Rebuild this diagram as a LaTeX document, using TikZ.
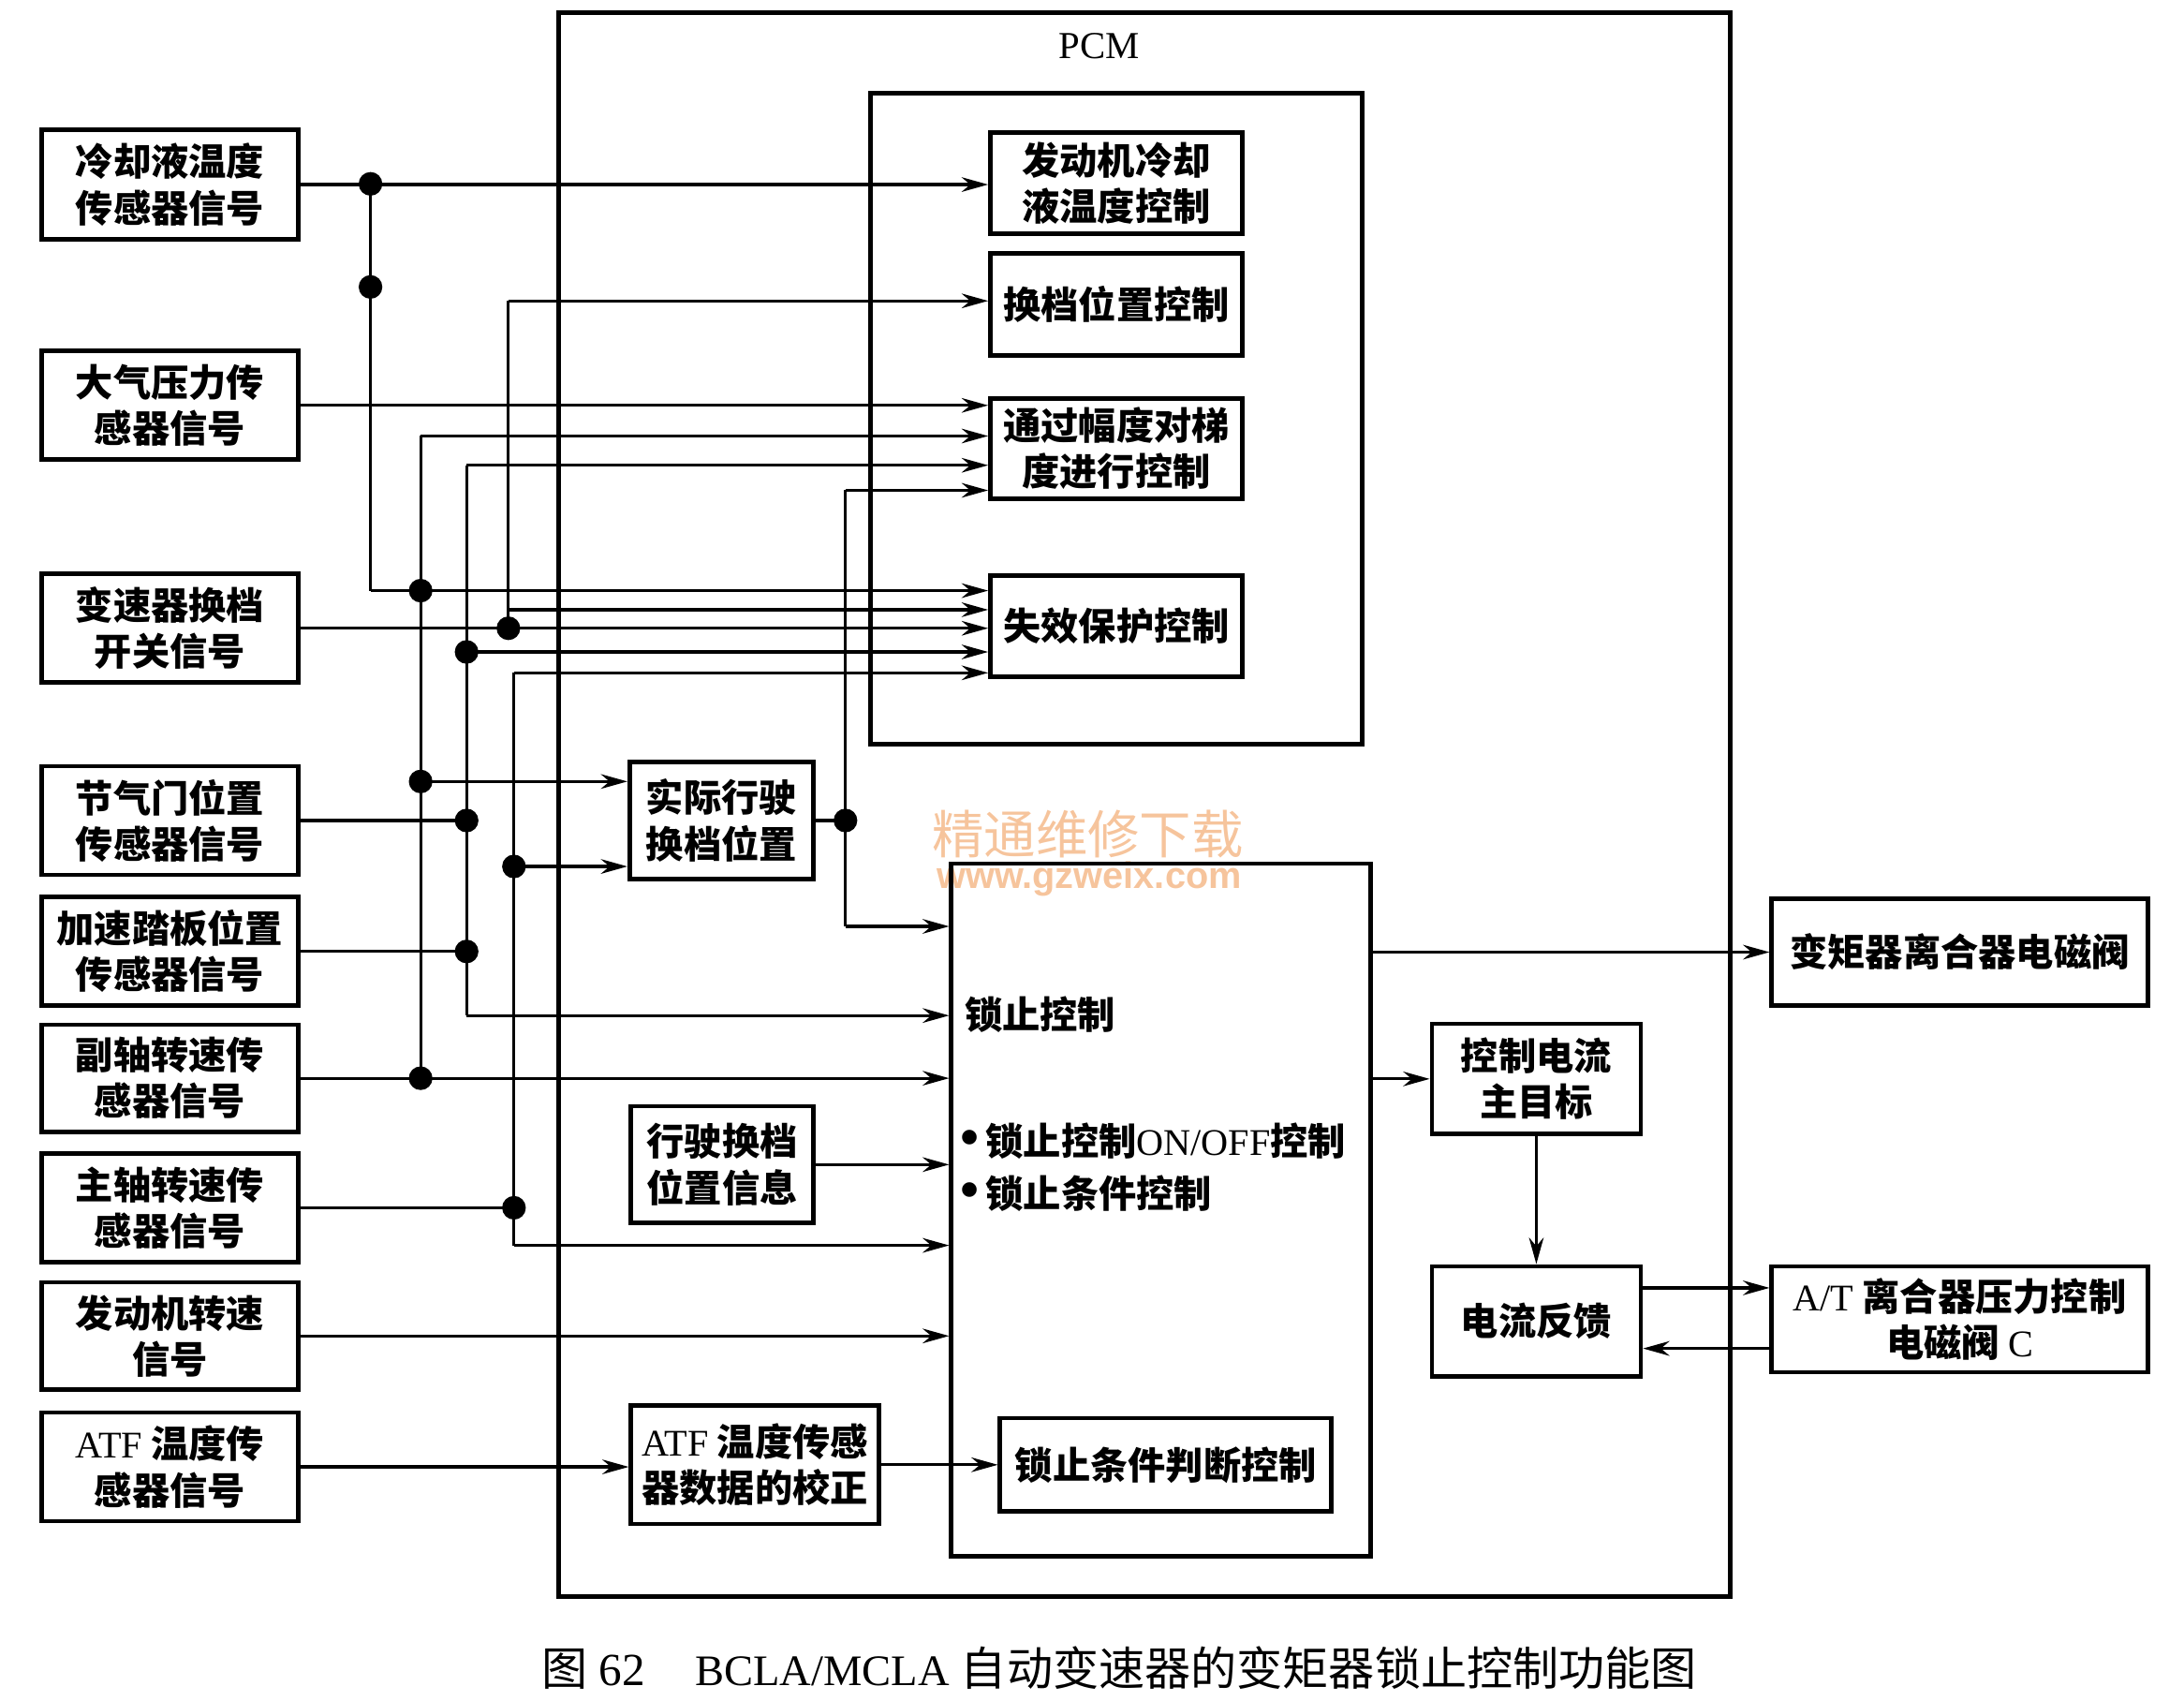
\documentclass[tikz,border=0pt]{standalone}
\usepackage{fontspec}
\setmainfont{Liberation Serif}
\newfontfamily\cjk{Noto Sans CJK SC}
\newfontfamily\wmsans{Liberation Sans}
\usetikzlibrary{arrows.meta}
\definecolor{wmorange}{RGB}{246,196,156}
\newcommand\ltn[1]{{\rmfamily\mdseries #1}}
\newcommand\zh[1]{{\cjk #1}}
\newcommand\bul{{\rmfamily\fontsize{11}{9.4}\selectfont •}}
\tikzset{
  box/.style={draw, line width=0.9pt, inner sep=0pt, align=center,
    font=\cjk\bfseries\fontsize{7.7}{9.4}\selectfont},
  frame/.style={draw, line width=0.9pt, inner sep=0pt},
  plain/.style={inner sep=0pt, anchor=west,
    font=\cjk\bfseries\fontsize{7.7}{9.4}\selectfont},
  wire/.style={line width=0.6pt},
  arr/.style={wire, -{Stealth[length=1.9mm,width=1.05mm]}},
}

\begin{document}
\begin{tikzpicture}[x=0.1mm,y=-0.1mm]
  \useasboundingbox (0,0) rectangle (1568,1221);

  % 水印
  \node[text=wmorange, inner sep=0pt, font=\cjk\fontsize{10.6}{11}\selectfont] (wmcn) at (781,599) {精通维修下载};
  \node[text=wmorange, inner sep=0pt, font=\wmsans\bfseries\fontsize{7.6}{8}\selectfont] (wmurl) at (782,631) {www.gzweix.com};

  % PCM 外框与上部控制框
  \node[frame, minimum width=84.1mm, minimum height=113.7mm] (pcm) at (821.5,577.5) {};
  \node[font=\fontsize{7.8}{8}\selectfont] (pcmlabel) at (789,33) {PCM};
  \node[frame, minimum width=35.3mm, minimum height=46.7mm] (upper) at (801.5,300.5) {};

  % 左侧传感器信号
  \node[box, minimum width=18.4mm, minimum height=7.9mm] (coolant) at (122,132.5) {冷却液温度\\传感器信号};
  \node[box, minimum width=18.4mm, minimum height=7.8mm] (baro) at (122,291) {大气压力传\\感器信号};
  \node[box, minimum width=18.4mm, minimum height=7.8mm] (shiftsw) at (122,451) {变速器换档\\开关信号};
  \node[box, minimum width=18.4mm, minimum height=7.8mm] (throttle) at (122,589) {节气门位置\\传感器信号};
  \node[box, minimum width=18.4mm, minimum height=7.8mm] (accel) at (122,683) {加速踏板位置\\传感器信号};
  \node[box, minimum width=18.4mm, minimum height=7.7mm] (ctrshaft) at (122,774) {副轴转速传\\感器信号};
  \node[box, minimum width=18.4mm, minimum height=7.8mm] (mainshaft) at (122,867) {主轴转速传\\感器信号};
  \node[box, minimum width=18.4mm, minimum height=7.7mm] (engspeed) at (122,959) {发动机转速\\信号};
  \node[box, minimum width=18.4mm, minimum height=7.8mm] (atftemp) at (122,1053) {\ltn{ATF} 温度传\\感器信号};

  % 上部控制功能
  \node[box, minimum width=18.1mm, minimum height=7.3mm] (coolctl) at (801.5,131.5) {发动机冷却\\液温度控制};
  \node[box, minimum width=18.1mm, minimum height=7.3mm] (shiftctl) at (801.5,218.5) {换档位置控制};
  \node[box, minimum width=18.1mm, minimum height=7.2mm] (gradctl) at (801.5,322) {通过幅度对梯\\度进行控制};
  \node[box, minimum width=18.1mm, minimum height=7.3mm] (failsafe) at (801.5,449.5) {失效保护控制};

  % 中间处理框
  \node[box, minimum width=13.2mm, minimum height=8.4mm] (actpos) at (518,589) {实际行驶\\换档位置};
  \node[box, minimum width=13.1mm, minimum height=8.4mm] (posinfo) at (518.5,836) {行驶换档\\位置信息};
  \node[box, minimum width=17.8mm, minimum height=8.5mm] (atfcal) at (542,1051.5) {\ltn{ATF} 温度传感\\器数据的校正};

  % 锁止控制
  \node[frame, minimum width=30.1mm, minimum height=49.7mm] (lockup) at (833.5,868.5) {};
  \node[plain] (lktitle) at (692,728) {锁止控制};
  \node[plain] (lkonoff) at (689,819) {\bul\,锁止控制\ltn{ON/OFF}控制};
  \node[plain] (lkcond) at (689,857) {\bul\,锁止条件控制};
  \node[box, minimum width=23.8mm, minimum height=6.7mm] (lockjudge) at (837,1051.5) {锁止条件判断控制};

  % 右侧电流控制与电磁阀
  \node[box, minimum width=15mm, minimum height=7.9mm] (curtarget) at (1103,774.5) {控制电流\\主目标};
  \node[box, minimum width=15mm, minimum height=7.9mm] (curfb) at (1103,948.5) {电流反馈};
  \node[box, minimum width=27mm, minimum height=7.7mm] (tccsol) at (1407,683.5) {变矩器离合器电磁阀};
  \node[box, minimum width=27mm, minimum height=7.6mm] (atsol) at (1407,947) {\ltn{A/T} 离合器压力控制\\电磁阀 \ltn{C}};

  % 母线节点
  \coordinate (atop) at (266,132);
  \coordinate (amid) at (266,206);
  \coordinate (abot) at (266,424);
  \coordinate (btop) at (302,313);
  \coordinate (bact) at (302,561);
  \coordinate (ctop) at (335,334);
  \coordinate (cfail) at (335,468);
  \coordinate (cbot) at (335,729);
  \coordinate (dtop) at (365,216);
  \coordinate (dfail) at (365,437.7);
  \coordinate (etop) at (369,483);
  \coordinate (eact) at (369,622);
  \coordinate (ebot) at (369,894);
  \coordinate (ftop) at (607,352);
  \coordinate (fbot) at (607,665);
  \coordinate (bcross) at (abot -| btop);
  \coordinate (bbot) at (ctrshaft.east -| btop);
  \coordinate (cthr) at (throttle.east -| ctop);
  \coordinate (cacc) at (accel.east -| ctop);
  \coordinate (dsw) at (shiftsw.east -| dtop);
  \coordinate (emain) at (mainshaft.east -| etop);
  \coordinate (fjoin) at (actpos.east -| ftop);

  % 冷却液温度信号
  \draw[arr] (coolant.east) -- (coolant.east -| coolctl.west);
  \draw[wire] (atop) -- (abot);
  \draw[arr] (abot) -- (abot -| failsafe.west);

  % 大气压力信号
  \draw[arr] (baro.east) -- (baro.east -| gradctl.west);

  % 副轴转速信号
  \draw[arr] (ctrshaft.east) -- (ctrshaft.east -| lockup.west);
  \draw[arr] (btop) -- (btop -| gradctl.west);
  \draw[wire] (btop) -- (bbot);
  \draw[arr] (bact) -- (bact -| actpos.west);

  % 节气门与加速踏板位置信号
  \draw[wire] (throttle.east) -- (cthr);
  \draw[wire] (accel.east) -- (cacc);
  \draw[arr] (ctop) -- (ctop -| gradctl.west);
  \draw[wire] (ctop) -- (cbot);
  \draw[arr] (cfail) -- (cfail -| failsafe.west);
  \draw[arr] (cbot) -- (cbot -| lockup.west);

  % 变速器换档开关信号
  \draw[arr] (shiftsw.east) -- (shiftsw.east -| failsafe.west);
  \draw[arr] (dtop) -- (dtop -| shiftctl.west);
  \draw[wire] (dtop) -- (dsw);
  \draw[arr] (dfail) -- (dfail -| failsafe.west);

  % 主轴转速信号
  \draw[wire] (mainshaft.east) -- (emain);
  \draw[arr] (etop) -- (etop -| failsafe.west);
  \draw[wire] (etop) -- (ebot);
  \draw[arr] (eact) -- (eact -| actpos.west);
  \draw[arr] (ebot) -- (ebot -| lockup.west);

  % 实际行驶换档位置
  \draw[wire] (actpos.east) -- (fjoin);
  \draw[arr] (ftop) -- (ftop -| gradctl.west);
  \draw[wire] (ftop) -- (fbot);
  \draw[arr] (fbot) -- (fbot -| lockup.west);

  % 其余输入
  \draw[arr] (posinfo.east) -- (posinfo.east -| lockup.west);
  \draw[arr] (engspeed.east) -- (engspeed.east -| lockup.west);
  \draw[arr] (atftemp.east) -- (atftemp.east -| atfcal.west);
  \draw[arr] (atfcal.east) -- (atfcal.east -| lockjudge.west);

  % 输出与反馈
  \draw[arr] (lockup.east |- tccsol.west) -- (tccsol.west);
  \draw[arr] (lockup.east |- curtarget.west) -- (curtarget.west);
  \draw[arr] (curtarget.south) -- (curfb.north);
  \draw[arr] ([yshift=2.4mm]curfb.east) -- ([yshift=2.4mm]curfb.east -| atsol.west);
  \draw[arr] ([yshift=-2.1mm]atsol.west) -- ([yshift=-2.1mm]atsol.west -| curfb.east);

  % 连接点
  \foreach \p in {atop,amid,bcross,bact,bbot,cthr,cacc,cfail,dsw,eact,emain,fjoin} {
    \fill (\p) circle (0.85mm);
  }

  % 图题
  \node[anchor=west, inner sep=0pt, font=\fontsize{9.4}{10}\selectfont] (caption) at (388,1197)
    {\zh{图}~62\hspace{3.6mm}{\fontsize{8.9}{10}\selectfont BCLA/MCLA}~\zh{自动变速器的变矩器锁止控制功能图}};
\end{tikzpicture}
\end{document}
